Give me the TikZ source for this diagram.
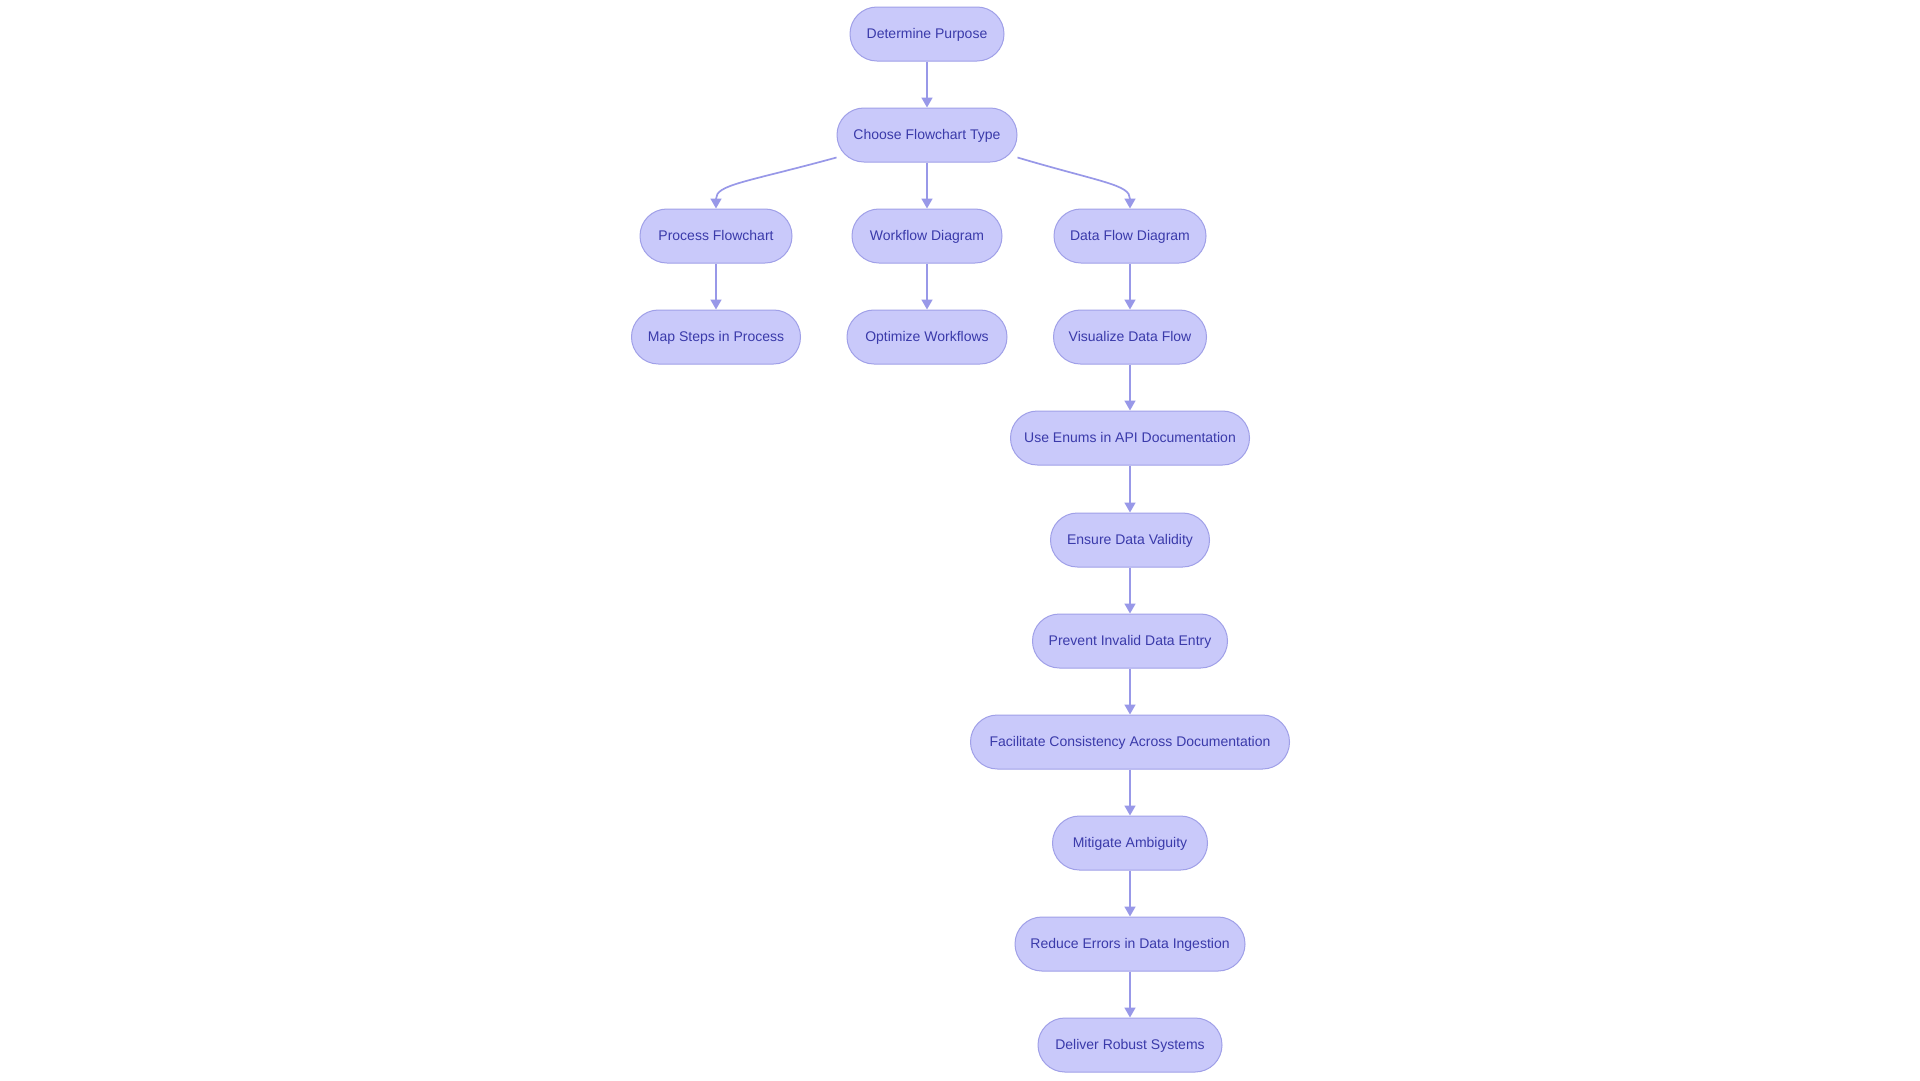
\documentclass[tikz,border=0pt]{standalone}
\usepackage{fontspec}
\setmainfont{Liberation Sans}
\usetikzlibrary{arrows.meta,calc}
\definecolor{nodefill}{RGB}{201,201,250}
\definecolor{nodeborder}{RGB}{160,160,232}
\definecolor{nodetext}{RGB}{58,58,170}
\definecolor{edgecol}{RGB}{152,152,232}
\tikzset{
  box/.style={draw=nodeborder, fill=nodefill, line width=1pt, rectangle,
    rounded corners=26.9pt, minimum height=54pt, inner sep=0pt,
    text height=10pt, text depth=0.5pt,
    text=nodetext, font=\fontsize{14}{16}\selectfont, align=center},
  conn/.style={draw=edgecol, line width=1.7pt, -{Triangle[width=11pt,length=10pt]}}
}
\begin{document}
\begin{tikzpicture}[x=1pt,y=-1pt]
\useasboundingbox (0,0) rectangle (1920,1080);
\fill[white] (0,0) rectangle (1920,1080);
\node[box, minimum width=154pt] (dp) at (927,34) {Determine Purpose};
\node[box, minimum width=180pt] (cft) at (927,135) {Choose Flowchart Type};
\node[box, minimum width=152pt] (pf) at (716,236) {Process Flowchart};
\node[box, minimum width=150pt] (wd) at (927,236) {Workflow Diagram};
\node[box, minimum width=152pt] (dfd) at (1130,236) {Data Flow Diagram};
\node[box, minimum width=169pt] (ms) at (716,337) {Map Steps in Process};
\node[box, minimum width=160pt] (ow) at (927,337) {Optimize Workflows};
\node[box, minimum width=153pt] (vdf) at (1130,337) {Visualize Data Flow};
\node[box, minimum width=239pt] (ue) at (1130,438) {Use Enums in API Documentation};
\node[box, minimum width=159pt] (edv) at (1130,540) {Ensure Data Validity};
\node[box, minimum width=195pt] (pid) at (1130,641) {Prevent Invalid Data Entry};
\node[box, minimum width=319pt] (fc) at (1130,742) {Facilitate Consistency Across Documentation};
\node[box, minimum width=155pt] (ma) at (1130,843) {Mitigate Ambiguity};
\node[box, minimum width=230pt] (re) at (1130,944) {Reduce Errors in Data Ingestion};
\node[box, minimum width=184pt] (drs) at (1130,1045) {Deliver Robust Systems};

\draw[conn] (dp.south) -- (cft.north);
\draw[conn] (cft.south) -- (wd.north);
\draw[conn] ($(cft.south west)+(0,-5)$) .. controls ($(pf.north)+(29,-26)$) and ($(pf.north)+(0,-24)$) .. (pf.north);
\draw[conn] ($(cft.south east)+(0,-5)$) .. controls ($(dfd.north)+(-28,-26)$) and ($(dfd.north)+(0,-24)$) .. (dfd.north);
\draw[conn] (pf.south) -- (ms.north);
\draw[conn] (wd.south) -- (ow.north);
\draw[conn] (dfd.south) -- (vdf.north);
\draw[conn] (vdf.south) -- (ue.north);
\draw[conn] (ue.south) -- (edv.north);
\draw[conn] (edv.south) -- (pid.north);
\draw[conn] (pid.south) -- (fc.north);
\draw[conn] (fc.south) -- (ma.north);
\draw[conn] (ma.south) -- (re.north);
\draw[conn] (re.south) -- (drs.north);
\end{tikzpicture}
\end{document}
